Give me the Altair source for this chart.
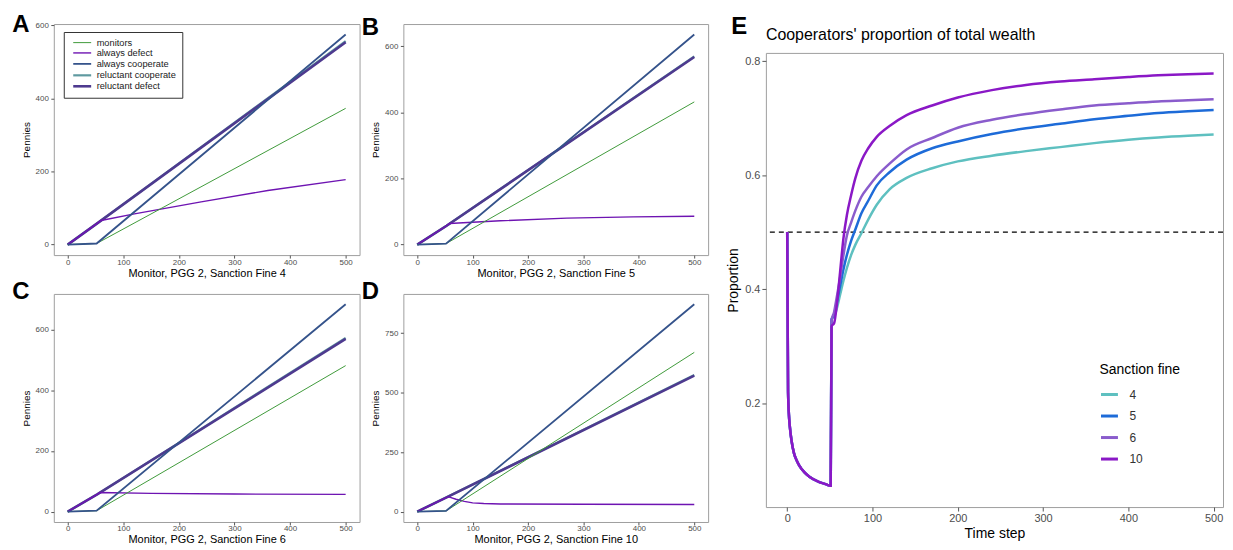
import altair as alt
import pandas as pd

FONT = "Liberation Sans"

# ---------------- Panels A-D : pennies per strategy ----------------
series_names = ["monitors", "always defect", "always cooperate",
                "reluctant cooperate", "reluctant defect"]
series_colors = ["#3f9a3a", "#6e14b2", "#35538b", "#5f9aa0", "#4e3a8f"]
series_widths = [1.0, 2.6, 1.0, 2.2, 1.6]
draw_order = ["reluctant cooperate", "reluctant defect", "always defect",
              "monitors", "always cooperate"]

t_flat = [0, 52, 500]          # monitors / always cooperate breakpoints
t_rel = [0, 53, 500]           # reluctant strategies breakpoints

A_monitors = [0, 3, 373]
A_always_coop = [0, 3, 575]
A_rel_coop = [0, 58, 557]
A_rel_defect = [0, 58, 554]
A_defect_t = [0, 53, 60, 120, 240, 360, 500]
A_defect = [0, 58, 66, 84, 117, 148, 178]

B_monitors = [0, 3, 432]
B_always_coop = [0, 3, 636]
B_rel_coop = [0, 57, 570]
B_rel_defect = [0, 57, 568]
B_defect_t = [0, 53, 58, 150, 270, 390, 500]
B_defect = [0, 57, 64, 72, 80, 84, 86]

C_monitors = [0, 3, 481]
C_always_coop = [0, 3, 683]
C_rel_coop = [0, 57, 572]
C_rel_defect = [0, 57, 569]
C_defect_t = [0, 53, 58, 150, 300, 500]
C_defect = [0, 57, 63, 60, 58, 57]

D_monitors = [0, 3, 669]
D_always_coop = [0, 3, 871]
D_rel_coop = [0, 60, 574]
D_rel_defect = [0, 60, 571]
D_defect_t = [0, 53, 57, 70, 85, 100, 120, 150, 300, 500]
D_defect = [0, 60, 62, 52, 43, 37, 34, 32, 31, 30]

x_ticks_small = [0, 100, 200, 300, 400, 500]
A_yticks = [0, 200, 400, 600]
D_yticks = [0, 250, 500, 750]

# ---------------- Panel E : cooperators' share of wealth ----------------
E_t = [0, 1, 2, 3, 5, 8, 11, 14, 20, 26, 37, 45, 51, 52, 55, 58, 62, 66, 70,
       75, 80, 87, 95, 105, 120, 140, 170, 200, 240, 280, 320, 360, 400, 435,
       470, 500]
E_early = [0.5, 0.22, 0.18, 0.16, 0.135, 0.112, 0.1, 0.091, 0.079, 0.071,
           0.062, 0.058, 0.055]
E_fine10 = E_early + [0.335, 0.34, 0.37, 0.43, 0.49, 0.53, 0.565, 0.595, 0.625,
                      0.647, 0.667, 0.686, 0.705, 0.722, 0.736, 0.749, 0.758,
                      0.764, 0.768, 0.772, 0.775, 0.777, 0.778]
E_fine6 = E_early + [0.345, 0.36, 0.385, 0.42, 0.46, 0.494, 0.517, 0.538, 0.562,
                     0.579, 0.598, 0.62, 0.645, 0.665, 0.683, 0.697, 0.707,
                     0.715, 0.722, 0.726, 0.729, 0.731, 0.733]
E_fine5 = E_early + [0.347, 0.355, 0.375, 0.405, 0.435, 0.46, 0.485, 0.505,
                     0.533, 0.555, 0.582, 0.605, 0.627, 0.647, 0.659, 0.672,
                     0.682, 0.69, 0.698, 0.704, 0.709, 0.712, 0.714]
E_fine4 = E_early + [0.347, 0.352, 0.365, 0.39, 0.415, 0.437, 0.46, 0.478, 0.498,
                     0.522, 0.548, 0.575, 0.595, 0.612, 0.624, 0.634, 0.642,
                     0.649, 0.656, 0.662, 0.666, 0.669, 0.671]
fine_names = ["4", "5", "6", "10"]
fine_colors = ["#5ec0c0", "#1d6bd8", "#8a5ccc", "#8a18c6"]
E_xticks = [0, 100, 200, 300, 400, 500]
E_yticks = [0.2, 0.4, 0.6, 0.8]


def panel_df(mon, ac, rc, rd, dt, dv):
    rows = []
    lines = {
        "reluctant cooperate": (t_rel, rc),
        "reluctant defect": (t_rel, rd),
        "always defect": (dt, dv),
        "monitors": (t_flat, mon),
        "always cooperate": (t_flat, ac),
    }
    for k, name in enumerate(draw_order):
        ts, vs = lines[name]
        for t, v in zip(ts, vs):
            rows.append({"series": name, "t": t, "v": v, "o": k})
    return pd.DataFrame(rows)


def panel(df, letter, fine, ymax, yticks, height, legend, title_offset):
    pad = ymax * 0.05
    leg = None
    if legend:
        leg = alt.Legend(orient="none", legendX=10, legendY=8, title=None,
                         symbolType="M-2.25,0H2.25", symbolSize=64,
                         symbolStrokeWidth=2.5, labelFontSize=9.3,
                         labelColor="#1a1a1a", padding=6, rowPadding=0,
                         symbolOffset=7, labelOffset=9, strokeColor="#333333",
                         fillColor="white", labelFont=FONT)
    return alt.Chart(df).mark_line().encode(
        x=alt.X("t:Q", scale=alt.Scale(domain=[-25, 525], nice=False, zero=False),
                axis=alt.Axis(values=x_ticks_small, title=f"Monitor, PGG 2, Sanction Fine {fine}",
                              labelFontSize=8, titleFontSize=11, tickSize=3,
                              labelPadding=0, titlePadding=1)),
        y=alt.Y("v:Q", scale=alt.Scale(domain=[-pad, ymax + pad], nice=False, zero=False),
                axis=alt.Axis(values=yticks, title="Pennies", labelFontSize=8,
                              titleFontSize=10, tickSize=3, labelPadding=2.5,
                              titlePadding=4)),
        color=alt.Color("series:N", scale=alt.Scale(domain=series_names, range=series_colors),
                        legend=leg),
        strokeWidth=alt.StrokeWidth("series:N", scale=alt.Scale(domain=series_names,
                                                                 range=series_widths),
                                    legend=None),
        detail="o:O",
    ).properties(
        width=307 if letter in "AC" else 306, height=height,
        title=alt.TitleParams(letter, anchor="start", frame="bounds", fontSize=24,
                              fontWeight="bold", offset=title_offset, dx=-9, font=FONT,
                              color="black"),
    )


A = panel(panel_df(A_monitors, A_always_coop, A_rel_coop, A_rel_defect, A_defect_t, A_defect),
          "A", 4, 575, A_yticks, 232, True, -16)
B = panel(panel_df(B_monitors, B_always_coop, B_rel_coop, B_rel_defect, B_defect_t, B_defect),
          "B", 5, 636, A_yticks, 232, False, -16)
C = panel(panel_df(C_monitors, C_always_coop, C_rel_coop, C_rel_defect, C_defect_t, C_defect),
          "C", 6, 683, A_yticks, 229, False, -10)
D = panel(panel_df(D_monitors, D_always_coop, D_rel_coop, D_rel_defect, D_defect_t, D_defect),
          "D", 10, 871, D_yticks, 229, False, -10)

# ---- Panel E ----
e_rows = []
for name, vals in zip(fine_names, [E_fine4, E_fine5, E_fine6, E_fine10]):
    for t, p in zip(E_t, vals):
        e_rows.append({"fine": name, "t": t, "p": p})
e_df = pd.DataFrame(e_rows)

e_y = alt.Y("p:Q", scale=alt.Scale(domain=[0.0178, 0.8142], nice=False, zero=False),
            axis=alt.Axis(values=E_yticks, format=".1f", title="Proportion",
                          labelFontSize=11, titleFontSize=14, tickSize=4,
                          labelPadding=2, titlePadding=4))
e_x = alt.X("t:Q", scale=alt.Scale(domain=[-25, 511], nice=False, zero=False),
            axis=alt.Axis(values=E_xticks, title="Time step", labelFontSize=11,
                          titleFontSize=14, tickSize=4, labelPadding=2, titlePadding=3))

ref_line = alt.Chart(pd.DataFrame({"p": [0.5]})).mark_rule(
    color="black", strokeDash=[5, 4], strokeWidth=1.2).encode(y=e_y)

e_lines = alt.Chart(e_df).mark_line(strokeWidth=2.5, interpolate="monotone").encode(
    x=e_x, y=e_y,
    color=alt.Color("fine:N", scale=alt.Scale(domain=fine_names, range=fine_colors),
                    sort=fine_names,
                    legend=alt.Legend(title="Sanction fine", orient="none",
                                      legendX=335, legendY=311, symbolType="stroke",
                                      symbolSize=289, symbolStrokeWidth=3,
                                      labelFontSize=12, titleFontSize=14,
                                      titleFontWeight="normal", titleColor="black",
                                      labelColor="#333333", rowPadding=5.6,
                                      titlePadding=8, labelOffset=10, padding=0,
                                      labelFont=FONT, titleFont=FONT)),
)

E_chart = alt.layer(ref_line, e_lines).properties(
    width=459, height=456,
    title=alt.TitleParams("Cooperators' proportion of total wealth", anchor="start",
                          frame="group", fontSize=16, fontWeight="normal",
                          offset=10, font=FONT, color="black"),
)

res = dict(x="independent", y="independent", color="independent",
           strokeWidth="independent")

# invisible 1x1 anchor on top of panel E, so that E's plot can start lower
# than the plots of panels A and B (row origins are aligned in a concat row)
anchor = alt.Chart(pd.DataFrame({"a": [0]})).mark_point(opacity=0, size=1).properties(
    width=1, height=1, view=alt.ViewBackground(stroke="transparent"))

row1 = alt.hconcat(A, B, spacing=0).resolve_scale(**res)
row2 = alt.hconcat(C, D, spacing=0).resolve_scale(**res)
grid = alt.vconcat(row1, row2, spacing=0).resolve_scale(**res)
E_wrap = alt.vconcat(anchor, E_chart, spacing=0, title=alt.TitleParams(
    "E", anchor="start", frame="bounds", fontSize=24, fontWeight="bold",
    offset=-16, dx=5, font=FONT, color="black")).resolve_scale(**res)

chart = alt.hconcat(grid, E_wrap, spacing=17,
                    padding={"left": 3, "top": 3, "right": 0, "bottom": 0}
                    ).resolve_scale(**res).configure(
    font=FONT,
).configure_view(
    stroke="#9e9e9e", strokeWidth=1,
).configure_axis(
    grid=False, domain=False, tickColor="#555555", labelColor="#4d4d4d",
    titleColor="black", titleFontWeight="normal", labelFont=FONT, titleFont=FONT,
).configure_title(font=FONT)

chart.save("out.html", embed_options={"renderer": "svg", "actions": False})
